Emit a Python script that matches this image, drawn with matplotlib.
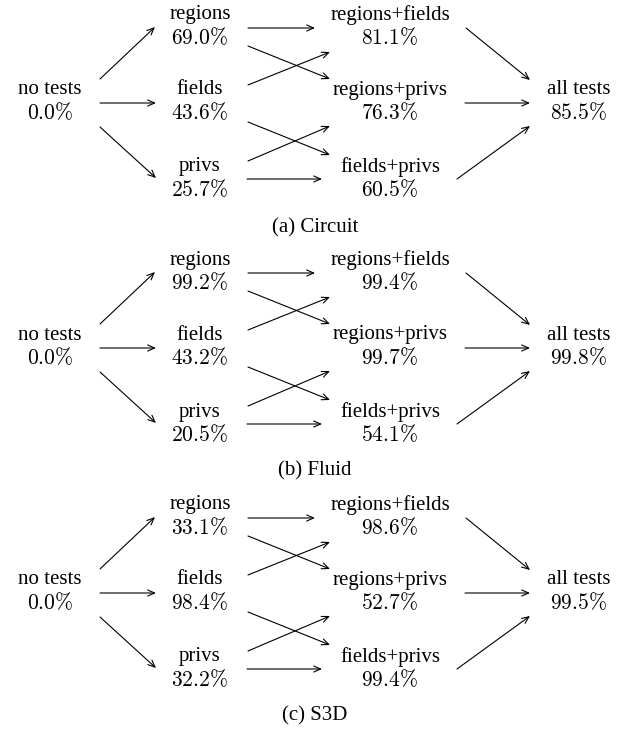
import matplotlib
matplotlib.use("Agg")
import matplotlib.pyplot as plt

plt.rcParams['font.family'] = ['Liberation Serif', 'DejaVu Serif']
plt.rcParams['mathtext.fontset'] = 'cm'

# node names per column
col0 = ["no tests"]
col1 = ["regions", "fields", "privs"]
col2 = ["regions+fields", "regions+privs", "fields+privs"]
col3 = ["all tests"]

# coverage values (%) per panel
captions = ["(a) Circuit", "(b) Fluid", "(c) S3D"]
no_tests = [0.0, 0.0, 0.0]
singles = [[69.0, 43.6, 25.7], [99.2, 43.2, 20.5], [33.1, 98.4, 32.2]]
pairs = [[81.1, 76.3, 60.5], [99.4, 99.7, 54.1], [98.6, 52.7, 99.4]]
all_tests = [85.5, 99.8, 99.5]

fig = plt.figure(figsize=(6.3, 7.3), dpi=100)
ax = fig.add_axes([0, 0, 1, 1])
ax.set_xlim(0, 630)
ax.set_ylim(730, 0)
ax.axis("off")

FS = 15
xs = [50, 200, 390, 579]
row_y = [15, 90, 167]   # y of node name line in panel (a)
line_gap = 23
panel_dy = 245
cap_y = [228, 471, 716]


def node(x, y, name, val):
    ax.text(x, y, name, ha="center", va="center", fontsize=FS)
    ax.text(x, y + line_gap, r"$%.1f\%%$" % val, ha="center", va="center", fontsize=FS + 0.5)


def arrow(x0, y0, x1, y1):
    ax.annotate("", xy=(x1, y1), xytext=(x0, y0),
                arrowprops=dict(arrowstyle="->,head_length=0.5,head_width=0.22",
                                lw=0.8, color="black", shrinkA=0, shrinkB=0))


for p in range(3):
    dy = p * panel_dy
    node(xs[0], row_y[1] + dy, col0[0], no_tests[p])
    for i in range(3):
        node(xs[1], row_y[i] + dy, col1[i], singles[p][i])
        node(xs[2], row_y[i] + dy, col2[i], pairs[p][i])
    node(xs[3], row_y[1] + dy, col3[0], all_tests[p])

    # no tests -> singles
    arrow(100, 79 + dy, 155, 27 + dy)
    arrow(100, 103 + dy, 156, 103 + dy)
    arrow(100, 127 + dy, 156, 178 + dy)

    # singles -> pairs
    arrow(248, 28 + dy, 315, 28 + dy)
    arrow(248, 46 + dy, 330, 79 + dy)
    arrow(248, 85 + dy, 330, 52 + dy)
    arrow(248, 122 + dy, 330, 155 + dy)
    arrow(248, 161 + dy, 330, 126 + dy)
    arrow(247, 179 + dy, 322, 179 + dy)

    # pairs -> all tests
    arrow(466, 28 + dy, 530, 80 + dy)
    arrow(465, 103 + dy, 530, 103 + dy)
    arrow(457, 179 + dy, 530, 126 + dy)

    ax.text(315, cap_y[p], captions[p], ha="center", va="center", fontsize=FS)

fig.savefig("out.png", dpi=100)
